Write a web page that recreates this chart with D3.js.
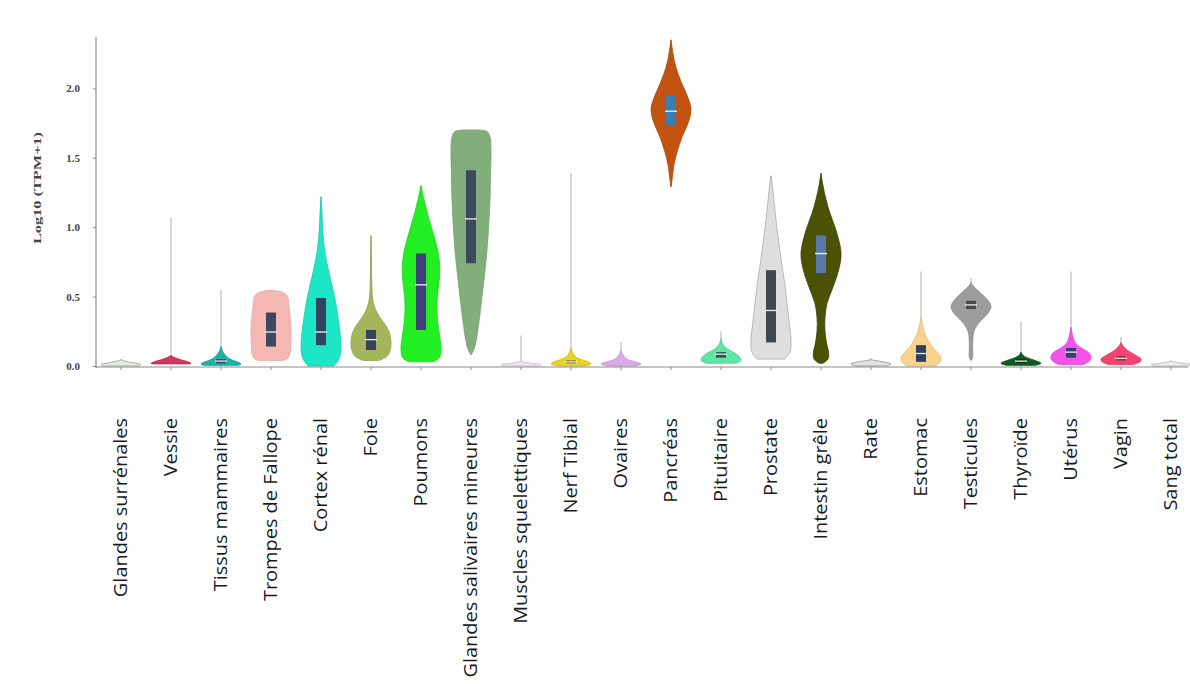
<!DOCTYPE html>
<html>
<head>
<meta charset="utf-8">
<script src="https://cdn.jsdelivr.net/npm/d3@7"></script>
<style>
  html, body { margin: 0; padding: 0; background: #fff; }
  svg { display: block; }
</style>
</head>
<body>
<svg id="chart" width="1190" height="684"></svg>
<script>
// Tissue names along the x axis
const tissues = [
  "Glandes surrénales", "Vessie", "Tissus mammaires", "Trompes  de Fallope",
  "Cortex rénal", "Foie", "Poumons", "Glandes salivaires mineures",
  "Muscles squelettiques", "Nerf Tibial", "Ovaires", "Pancréas",
  "Pituitaire", "Prostate", "Intestin grêle", "Rate", "Estomac",
  "Testicules", "Thyroïde", "Utérus", "Vagin", "Sang total"
];

// Density profiles: [log10(TPM+1), relative density]
const profiles = [
  [[0.0,0.85],[0.01,1],[0.02,0.75],[0.03,0.35],[0.045,0]],
  [[0.015,0.9],[0.02,1],[0.03,0.85],[0.045,0.5],[0.06,0.2],[0.075,0]],
  [[0.005,0.85],[0.015,1],[0.03,0.8],[0.05,0.45],[0.08,0.2],[0.11,0.07],[0.14,0]],
  [[0.04,0.6],[0.05,0.8],[0.08,0.93],[0.15,0.98],[0.25,1],[0.35,0.96],[0.45,0.88],[0.5,0.83],[0.53,0.6],[0.545,0]],
  [[0.0,0.65],[0.05,0.9],[0.12,1],[0.2,0.98],[0.3,0.9],[0.4,0.8],[0.5,0.68],[0.6,0.52],[0.7,0.36],[0.8,0.22],[0.9,0.13],[1.0,0.08],[1.1,0.05],[1.22,0]],
  [[0.04,0.4],[0.07,0.8],[0.12,0.97],[0.18,1],[0.24,0.92],[0.3,0.7],[0.35,0.45],[0.4,0.25],[0.45,0.13],[0.5,0.07],[0.6,0.04],[0.7,0.025],[0.8,0.015],[0.94,0]],
  [[0.03,0.6],[0.06,0.92],[0.12,1],[0.2,0.95],[0.3,0.85],[0.4,0.8],[0.5,0.82],[0.6,0.9],[0.7,0.94],[0.8,0.88],[0.9,0.72],[1.0,0.52],[1.1,0.32],[1.2,0.15],[1.3,0]],
  [[0.08,0],[0.12,0.15],[0.2,0.28],[0.3,0.38],[0.4,0.47],[0.6,0.63],[0.8,0.78],[1.0,0.88],[1.2,0.95],[1.4,0.98],[1.55,1],[1.65,0.95],[1.69,0.8],[1.7,0]],
  [[0.0,0.9],[0.01,1],[0.02,0.5],[0.035,0]],
  [[0.0,0.6],[0.015,1],[0.03,0.85],[0.05,0.45],[0.07,0.2],[0.1,0.07],[0.13,0]],
  [[0.0,0.7],[0.015,1],[0.03,0.7],[0.05,0.3],[0.08,0.1],[0.11,0]],
  [[1.29,0],[1.35,0.06],[1.45,0.15],[1.55,0.32],[1.65,0.55],[1.75,0.85],[1.85,1],[1.95,0.8],[2.05,0.5],[2.15,0.25],[2.25,0.1],[2.35,0]],
  [[0.02,0.7],[0.04,1],[0.07,0.9],[0.1,0.6],[0.13,0.25],[0.16,0.08],[0.2,0]],
  [[0.05,0.7],[0.1,0.95],[0.18,1],[0.3,0.92],[0.45,0.8],[0.6,0.68],[0.75,0.52],[0.9,0.38],[1.05,0.25],[1.2,0.14],[1.3,0.07],[1.37,0]],
  [[0.02,0.1],[0.05,0.35],[0.1,0.38],[0.15,0.3],[0.25,0.2],[0.35,0.2],[0.45,0.3],[0.55,0.55],[0.65,0.8],[0.75,0.97],[0.82,1],[0.9,0.9],[1.0,0.7],[1.1,0.45],[1.2,0.25],[1.3,0.1],[1.39,0]],
  [[0.0,0.8],[0.015,1],[0.03,0.6],[0.045,0]],
  [[0.0,0.75],[0.03,0.95],[0.06,1],[0.1,0.8],[0.15,0.5],[0.2,0.3],[0.25,0.15],[0.3,0.07],[0.35,0]],
  [[0.04,0],[0.06,0.08],[0.15,0.08],[0.25,0.15],[0.32,0.45],[0.38,0.85],[0.43,1],[0.48,0.8],[0.53,0.45],[0.57,0.15],[0.6,0]],
  [[0.005,0.75],[0.02,1],[0.04,0.7],[0.06,0.3],[0.08,0.08],[0.1,0]],
  [[0.01,0.6],[0.04,0.95],[0.07,1],[0.1,0.85],[0.13,0.5],[0.17,0.2],[0.22,0.08],[0.28,0]],
  [[0.01,0.6],[0.03,0.95],[0.05,1],[0.08,0.7],[0.11,0.35],[0.14,0.12],[0.17,0]],
  [[0.0,0.9],[0.01,1],[0.02,0.5],[0.035,0]]
];

// Whisker range per tissue
const whiskerLow  = [0.0, 0.015, 0.0, 0.04, 0.0, 0.04, 0.03, 0.08, 0.0, 0.0, 0.0, 1.29, 0.02, 0.05, 0.02, 0.0, 0.0, 0.04, 0.0, 0.01, 0.01, 0.0];
const whiskerHigh = [0.05, 1.07, 0.55, 0.55, 1.22, 0.94, 1.3, 1.7, 0.22, 1.39, 0.17, 2.35, 0.25, 1.37, 1.39, 0.06, 0.68, 0.63, 0.32, 0.68, 0.21, 0.04];

// Box plot quartiles (null where no box is visible)
const q1     = [null, null, 0.02, 0.14, 0.15, 0.115, 0.26, 0.74, null, 0.02, null, 1.73, 0.06, 0.17, 0.67, null, 0.03, 0.41, 0.02, 0.06, 0.04, null];
const median = [null, null, 0.035, 0.245, 0.245, 0.19, 0.585, 1.06, null, 0.03, null, 1.835, 0.085, 0.40, 0.81, null, 0.09, 0.44, 0.035, 0.10, 0.055, null];
const q3     = [null, null, 0.05, 0.385, 0.49, 0.26, 0.81, 1.41, null, 0.04, null, 1.95, 0.10, 0.69, 0.94, null, 0.15, 0.47, 0.05, 0.13, 0.07, null];

const yTicks = [0, 0.5, 1.0, 1.5, 2.0];

// Palette
const fills = [
  "#e4ebe2", "#d3365f", "#18b4a4", "#f5b7b1", "#1de6c7", "#a4b55b", "#22ee22", "#82ae7c",
  "#ece4ec", "#e8d420", "#dba8e8", "#c2520f", "#60e6a4", "#dedede", "#4a5206", "#e2e2e2",
  "#f8d18c", "#9c9c9c", "#105c22", "#f354e8", "#f2446f", "#eeeeee"
];
const strokes = [
  "#8fa08a", "#b82a50", "#139a8c", "#e6a7a2", "#17ccb0", "#92a24d", "#1cd41c", "#73a06e",
  "#c8bcc8", "#cbb916", "#c493d2", "#a8450b", "#50cc8e", "#a9a9a9", "#3d4405", "#8c8c8c",
  "#e6bd74", "#8a8a8a", "#0b4a1a", "#d844ce", "#d8385f", "#b0b0b0"
];
const boxFills = [
  "#34435a", "#34435a", "#2f4058", "#3a4862", "#344460", "#34435a", "#3f3f7a", "#3b4a60",
  "#34435a", "#5a5230", "#34435a", "#3b7eb6", "#25564a", "#3f464f", "#5b79a8", "#34435a",
  "#2f3f5e", "#4a4a4a", "#0c3018", "#2f3f6e", "#6a2e48", "#34435a"
];

const svg = d3.select("#chart");
const margin = { left: 96, right: 1196, top: 37, bottom: 366 };

const x = d3.scaleBand().domain(tissues).range([margin.left, margin.right]).padding(0);
const y = d3.scaleLinear().domain([0, 2.37]).range([margin.bottom, margin.top]);
const halfWidth = d3.scaleLinear().domain([0, 1]).range([0, 20]);

const cx = t => x(t) + x.bandwidth() / 2;

// Whiskers behind the violins
svg.append("g").selectAll("line")
  .data(tissues)
  .join("line")
  .attr("x1", d => cx(d)).attr("x2", d => cx(d))
  .attr("y1", (d, i) => y(whiskerLow[i]))
  .attr("y2", (d, i) => y(whiskerHigh[i]))
  .attr("stroke", "#c6c6c6")
  .attr("stroke-width", 1.4);

// Violins
const area = d3.area()
  .curve(d3.curveCatmullRom.alpha(0.5));

svg.append("g").selectAll("path")
  .data(tissues)
  .join("path")
  .attr("d", (t, i) => area
    .x0(p => cx(t) - halfWidth(p[1]))
    .x1(p => cx(t) + halfWidth(p[1]))
    .y(p => y(p[0]))(profiles[i]))
  .attr("fill", (d, i) => fills[i])
  .attr("stroke", (d, i) => strokes[i])
  .attr("stroke-width", 0.8);

// Inner box plots
const boxW = 10;
const withBox = tissues.map((t, i) => i).filter(i => q1[i] !== null);

svg.append("g").selectAll("rect")
  .data(withBox)
  .join("rect")
  .attr("x", i => cx(tissues[i]) - boxW / 2)
  .attr("width", boxW)
  .attr("y", i => y(q3[i]))
  .attr("height", i => Math.max(2, y(q1[i]) - y(q3[i])))
  .attr("fill", i => boxFills[i]);

svg.append("g").selectAll("line")
  .data(withBox)
  .join("line")
  .attr("x1", i => cx(tissues[i]) - boxW / 2 - 1)
  .attr("x2", i => cx(tissues[i]) + boxW / 2 + 1)
  .attr("y1", i => y(median[i]))
  .attr("y2", i => y(median[i]))
  .attr("stroke", "#ffffff")
  .attr("stroke-opacity", 0.85)
  .attr("stroke-width", 1.4);

// X axis
const xAxis = svg.append("g")
  .attr("transform", "translate(0,367)")
  .call(d3.axisBottom(x).tickSize(3).tickFormat(""));
xAxis.select(".domain").remove();
xAxis.selectAll(".tick line").attr("stroke", "#8a8a8a");
xAxis.append("line")
  .attr("x1", 96).attr("x2", 1188)
  .attr("stroke", "#8a8a8a").attr("stroke-width", 1.2);

// Category labels, rotated and slightly stretched along their length
svg.append("g").selectAll("text")
  .data(tissues)
  .join("text")
  .attr("transform", d => `translate(${cx(d)},418) rotate(-90) scale(1.14,1)`)
  .attr("dy", "0.36em")
  .attr("text-anchor", "end")
  .attr("font-family", "'Open Sans', sans-serif")
  .attr("font-size", 17.5)
  .attr("fill", "#1a1a1a")
  .text(d => d);

// Y axis
const yAxis = svg.append("g")
  .attr("transform", "translate(96,0)")
  .call(d3.axisLeft(y).tickValues(yTicks).tickSize(3).tickFormat(d3.format(".1f")));
yAxis.select(".domain").remove();
yAxis.append("line")
  .attr("y1", 37).attr("y2", 368)
  .attr("stroke", "#8a8a8a").attr("stroke-width", 1.2);
yAxis.selectAll(".tick line").attr("stroke", "#8a8a8a");
yAxis.selectAll(".tick text")
  .attr("x", -16)
  .attr("font-family", "'Liberation Serif', serif")
  .attr("font-weight", "bold")
  .attr("font-size", 11)
  .attr("fill", "#444");

svg.append("text")
  .attr("transform", "translate(37,188) rotate(-90)")
  .attr("dy", "0.35em")
  .attr("text-anchor", "middle")
  .attr("font-family", "'Liberation Serif', serif")
  .attr("font-weight", "bold")
  .attr("font-size", 11)
  .attr("fill", "#444")
  .attr("textLength", 112)
  .attr("lengthAdjust", "spacingAndGlyphs")
  .text("Log10 (TPM+1)");
</script>
</body>
</html>
